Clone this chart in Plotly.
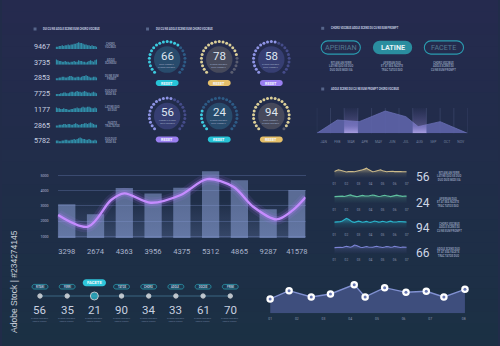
import math
import plotly.graph_objects as go

W, H = 500, 346
FONT = "Roboto"

# ======================= data =======================
# top-left list with mini bar charts
mini_numbers = ["9467", "3735", "2853", "7725", "1177", "2865", "5782"]
mini_captions = [("CHORO", "VOCIBUS"), ("ADOLE", "SCENSDU"), ("DU NE EUM", "PRIMET"),
                 ("DUO DUIS", "MODI EA"), ("LATINE QUO", "EX DUO"), ("FACETE", "TRACTATOS"),
                 ("DUO DUIS", "MODI EA")]
mini_bars_9467 = [3, 3, 4, 4, 5, 4, 5, 5, 6, 5, 6, 6, 7, 7, 8, 9, 8, 8, 7, 6, 6, 5, 5, 4, 5, 4, 4, 3]
mini_bars_3735 = [7, 6, 5, 5, 4, 4, 5, 4, 4, 3, 4, 4, 5, 4, 4, 6, 5, 5, 4, 4, 3, 4, 5, 6, 5, 4, 6, 7]
mini_bars_2853 = [3, 3, 4, 4, 5, 5, 4, 4, 5, 6, 6, 5, 4, 4, 5, 5, 4, 5, 6, 6, 7, 6, 5, 4, 4, 5, 5, 4]
mini_bars_7725 = [3, 3, 3, 4, 4, 5, 5, 4, 4, 5, 6, 6, 5, 6, 7, 6, 6, 5, 6, 7, 6, 5, 5, 4, 5, 6, 5, 4]
mini_bars_1177 = [6, 5, 5, 4, 4, 5, 4, 4, 3, 3, 4, 4, 5, 5, 6, 5, 5, 6, 7, 6, 6, 7, 7, 6, 5, 5, 6, 5]
mini_bars_2865 = [3, 3, 4, 4, 4, 5, 5, 4, 5, 5, 4, 4, 5, 6, 5, 4, 4, 5, 5, 6, 6, 5, 6, 7, 6, 5, 4, 4]
mini_bars_5782 = [4, 4, 3, 3, 4, 4, 5, 5, 4, 4, 5, 5, 6, 5, 6, 7, 8, 7, 6, 6, 5, 5, 6, 5, 4, 4, 5, 4]

# gauges
gauge_values = [66, 78, 58, 56, 24, 94]
gauge_themes = ["cyan", "gold", "violet", "violet", "cyan", "gold"]
gauge_captions = [("DUIS PROMPT", "CHORO VOCIBUS"), ("CHORO VOCIBUS", "DUIS PROMPT"),
                  ("CHORO VOCIBUS", "DUIS PROMPT"), ("PROMPT CHORO", "DUIS VOCIBUS"),
                  ("CHORO VOCIBUS", "DUIS PROMPT"), ("DUIS PROMPT", "CHORO VOCIBUS")]

# toggle buttons
toggle_labels = ["APEIRIAN", "LATINE", "FACETE"]
toggle_active = "LATINE"
toggle_captions = [("RITIANI AN FERRI", "LATINE QUO EX DUO", "DUO DUIS MODI EA"),
                   ("APEIRIAN DUO", "ET AT SEA FACETE", "TRAC TATOS DUO"),
                   ("CHORO VOCIBUS", "ADOLE SCENS DU", "CU NE EUM PROMPT")]

# monthly area chart
area_months = ["JAN", "FEB", "MAR", "APR", "MAY", "JUN", "JUL", "AUG", "SEP", "OCT", "NOV"]
area_x = [-0.5, 1.0, 2.6, 4.5, 6.0, 6.9, 8.5, 10.5]
area_y = [0, 40, 35, 67, 50, 20, 35, 0]
area_marked = ["MAR", "AUG"]
area_marked_labels = ["156K", "354.6"]

# bar + line combo chart
combo_categories = ["3298", "2674", "4363", "3956", "4375", "5312", "4865", "9287", "41578"]
combo_bars = [3100, 2440, 4170, 3800, 4190, 5260, 4670, 2770, 4040]
combo_line_x = [-0.30, 0.74, 1.54, 2.0, 2.92, 3.96, 4.88, 5.79, 6.48, 7.29, 7.86, 8.3]
combo_line_y = [2400, 1630, 3380, 3820, 3200, 3710, 4750, 4250, 2940, 2110, 2720, 3560]
combo_y_ticks = [1000, 2000, 3000, 4000, 5000]

# sparklines
spark_numbers = ["56", "24", "94", "66"]
spark_ticks = ["01", "02", "03", "04", "05", "06", "07"]
spark_tan = [5.4, 6.2, 6.8, 6.4, 5.9, 5.2, 5.0, 5.3, 5.6, 5.4, 5.2, 5.5, 5.8, 6.4, 6.9, 7.4, 8.2, 7.0,
             5.8, 5.2, 5.4, 5.8, 6.5, 6.8, 6.1, 5.5, 5.2, 5.4, 5.8, 5.6, 5.3, 5.5, 5.7, 5.4, 5.2, 5.3, 5.2]
spark_green = [5.6, 5.8, 6.0, 6.3, 6.0, 5.7, 6.2, 6.8, 7.0, 6.4, 5.9, 5.6, 5.8, 6.2, 6.6, 6.2, 5.9, 6.1,
               6.5, 6.9, 6.6, 6.0, 5.7, 5.9, 6.3, 6.7, 6.3, 5.8, 5.6, 6.0, 6.5, 6.8, 6.4, 6.0, 5.8, 6.1, 6.0]
spark_cyan = [5.4, 5.6, 5.3, 5.8, 6.4, 7.6, 8.6, 7.8, 6.4, 5.6, 5.2, 5.6, 6.2, 5.8, 5.3, 5.6, 6.0, 5.5,
              5.2, 5.7, 6.3, 5.9, 5.4, 5.6, 6.1, 5.7, 5.3, 5.8, 6.2, 5.6, 5.3, 5.5, 5.9, 5.6, 5.4, 5.6, 5.5]
spark_violet = [5.2, 5.5, 5.9, 5.6, 5.3, 5.8, 6.3, 6.0, 5.6, 6.2, 7.4, 7.0, 6.1, 5.5, 5.3, 5.7, 6.1, 5.8,
                5.4, 5.6, 6.0, 6.4, 6.0, 5.5, 5.3, 5.7, 6.2, 5.9, 5.5, 5.8, 6.3, 6.0, 5.6, 5.4, 5.7, 5.9, 5.6]
spark_captions = [("RITIANI AN FERRI", "LATINE QUO EX DUO", "DUO DUIS MODI EA"),
                  ("APEIRIAN DUO", "ET AT SEA FACETE", "TRAC TATOS DUO"),
                  ("CHORO VOCIBUS", "ADOLE SCENS DU", "CU NE EUM PROMPT"),
                  ("ADOLE SCENS DUO", "ET AT SEA FACETE", "TRAC TATOS DUO")]

# timeline
timeline_labels = ["RITANI", "FERRI", "FACETE", "TATOS", "CHORO", "ADOLE", "DOCES", "PRIMI"]
timeline_values = [56, 35, 21, 90, 34, 33, 61, 70]
timeline_active = "FACETE"

# bottom-right trend
trend_x = [0, 0.71, 1.54, 2.26, 3.15, 3.56, 4.29, 5.09, 5.85, 6.51, 7.30]
trend_y = [43, 68, 49, 58, 86, 49, 77, 63, 66, 49, 72]
trend_tick_pos = [0, 1, 2, 3, 4, 5, 6, 7.25]
trend_ticks = ["01", "02", "03", "04", "05", "06", "07", "08"]

# ======================= helpers =======================
fig = go.Figure()
axes = {}
shapes = []
annotations = []
_n = [1]

BASE_AX = dict(showgrid=False, zeroline=False, showticklabels=False, showline=False,
               ticks="", fixedrange=True)


def rgba(h, a):
    h = h.lstrip("#")
    return "rgba(%d,%d,%d,%s)" % (int(h[0:2], 16), int(h[2:4], 16), int(h[4:6], 16), a)


def new_axes(x0, x1, top, bottom, xr, yr, xextra=None, yextra=None):
    _n[0] += 1
    n = _n[0]
    xa = dict(BASE_AX, domain=[x0 / W, x1 / W], range=xr, anchor="y%d" % n)
    ya = dict(BASE_AX, domain=[1 - bottom / H, 1 - top / H], range=yr, anchor="x%d" % n)
    xa.update(xextra or {})
    ya.update(yextra or {})
    axes["xaxis%d" % n] = xa
    axes["yaxis%d" % n] = ya
    return "x%d" % n, "y%d" % n


def text(x, y, s, size, color, anchor="center", xref="x", yref="y", family=FONT, **kw):
    annotations.append(dict(x=x, y=y, xref=xref, yref=yref, text=s, showarrow=False,
                            xanchor=anchor, yanchor="middle", borderpad=0,
                            font=dict(size=size, color=color, family=family), **kw))


def pill(cx, cy, w, h, fill, line=None, lw=0):
    r = h / 2.0
    k = 0.5523 * r
    a, b = cx - w / 2 + r, cx + w / 2 - r
    t, u = cy - r, cy + r
    p = ("M%.2f,%.2f L%.2f,%.2f C%.2f,%.2f %.2f,%.2f %.2f,%.2f C%.2f,%.2f %.2f,%.2f %.2f,%.2f "
         "L%.2f,%.2f C%.2f,%.2f %.2f,%.2f %.2f,%.2f C%.2f,%.2f %.2f,%.2f %.2f,%.2f Z") % (
        a, t, b, t, b + k, t, b + r, cy - k, b + r, cy, b + r, cy + k, b + k, u, b, u,
        a, u, a - k, u, a - r, cy + k, a - r, cy, a - r, cy - k, a - k, t, a, t)
    shapes.append(dict(type="path", path=p, xref="x", yref="y", layer="below",
                       fillcolor=fill, line=dict(color=line or "rgba(0,0,0,0)", width=lw)))


def title(x, y, s):
    shapes.append(dict(type="rect", xref="x", yref="y", x0=x - 1.5, x1=x + 1.5, y0=y - 1.5, y1=y + 1.5,
                       fillcolor="#56658a", line=dict(width=0), layer="below"))
    text(x + 7.5, y, "<b>%s</b>" % s, 2.6, "#c5cde0", anchor="left")


# ======================= background =======================
top_c, bot_c = (37, 42, 78), (27, 48, 68)
NB = 30
for i in range(NB):
    f = i / (NB - 1)
    c = tuple(int(round(top_c[j] + (bot_c[j] - top_c[j]) * f)) for j in range(3))
    shapes.append(dict(type="rect", xref="paper", yref="paper", x0=0, x1=1,
                       y0=1 - (i + 1) / NB - 0.002, y1=1 - i / NB, layer="below",
                       fillcolor="rgb(%d,%d,%d)" % c, line=dict(width=0)))

# canvas axes (1 unit = 1 px)
axes["xaxis"] = dict(BASE_AX, domain=[0, 1], range=[0, W])
axes["yaxis"] = dict(BASE_AX, domain=[0, 1], range=[H, 0])

# vertical credit line
text(12, 281, "Adobe Stock | #234274145", 8.5, "#c9ced9", family="Liberation Sans", textangle=-90)

# ======================= top-left mini bars =======================
title(33.3, 29, "DUI CU NE ADOLE SCENS EUM CHORO VOCIBUS")
mini_series = [mini_bars_9467, mini_bars_3735, mini_bars_2853, mini_bars_7725,
               mini_bars_1177, mini_bars_2865, mini_bars_5782]
for r, (num, cap, vals) in enumerate(zip(mini_numbers, mini_captions, mini_series)):
    ry = 46.3 + 15.75 * r
    xa, ya = new_axes(54, 96, ry - 4.8, ry + 2.7, [-0.5, len(vals) - 0.5], [0, 10])
    fig.add_trace(go.Bar(x=list(range(len(vals))), y=vals, width=0.9, xaxis=xa, yaxis=ya,
                         marker=dict(color="rgba(50,150,176,0.92)", line=dict(width=0))))
    text(31.7, ry, num, 7.2, "#c8d0e0", anchor="left")
    text(103.3, ry - 0.6, "<b>%s<br>%s</b>" % cap, 2.6, "#8693b0", anchor="left")

# ======================= gauges =======================
title(146.7, 29, "DUI CU NE ADOLE SCENS EUM CHORO VOCIBUS")
THEMES = {
    "cyan": dict(on="#3ccbe0", off="#2d5b86", disc="#284b6c", button="#27c3d6"),
    "gold": dict(on="#dccf98", off="#5a5d70", disc="#46495b", button="#e5bf6a"),
    "violet": dict(on="#8f95e6", off="#454c8a", disc="#363e72", button="#9a7ff0"),
}
gx = [166.5, 219.0, 271.5]
gy = [59.5, 116.0]
N_DOTS, RING, DISC = 23, 18.0, 13.3
for i, (v, th, cap) in enumerate(zip(gauge_values, gauge_themes, gauge_captions)):
    cx, cy = gx[i % 3], gy[i // 3]
    t = THEMES[th]
    shapes.append(dict(type="circle", xref="x", yref="y", x0=cx - DISC, x1=cx + DISC,
                       y0=cy - DISC, y1=cy + DISC, fillcolor=t["disc"], line=dict(width=0), layer="below"))
    lit = round(v / 100 * N_DOTS)
    ang = [math.radians(-135 + 270 * k / (N_DOTS - 1)) for k in range(N_DOTS)]
    fig.add_trace(go.Scatter(x=[cx + RING * math.sin(a) for a in ang],
                             y=[cy - RING * math.cos(a) for a in ang], mode="markers",
                             marker=dict(size=3, color=[t["on"] if k < lit else t["off"] for k in range(N_DOTS)]),
                             xaxis="x", yaxis="y", hoverinfo="skip"))
    text(cx, cy - 4.0, str(v), 11.5, "#dfe6f0")
    text(cx, cy + 6.3, "<b>%s<br>%s</b>" % cap, 2.2, "#8d9ab8")
    pill(cx, cy + 23.5, 23, 5.8, t["button"])
    text(cx, cy + 23.5, "<b>RESET</b>", 3.8, "#f4f8ff")

# ======================= toggles =======================
title(323.3, 28.3, "CHORO VOCIBUS ADOLE SCENS DU CU NE EUM PROMPT")
tx = [341.5, 393.7, 445.5]
for lab, cap, cx in zip(toggle_labels, toggle_captions, tx):
    if lab == toggle_active:
        pill(cx, 47.5, 39.5, 13.5, "#2a8d9f")
        text(cx, 47.6, "<b>%s</b>" % lab, 7.2, "#e6f3f6")
    else:
        pill(cx, 47.5, 39.5, 13.2, "rgba(0,0,0,0)", "#2a9cb0", 1.1)
        text(cx, 47.6, lab, 7.2, "#557a90")
    text(cx, 66.3, "<b>%s<br>%s<br>%s</b>" % cap, 2.6, "#8a9ab5")

# ======================= monthly area =======================
title(323.3, 89, "ADOLE SCENS DUI CU NE EUM PROMPT CHORO VOCIBUS")
AY = 76
xa, ya = new_axes(317.3, 469.3, 108, 133.3, [-0.5, len(area_months) - 0.5], [0, AY],
                  xextra=dict(showticklabels=True, tickmode="array",
                              tickvals=list(range(len(area_months))), ticktext=area_months,
                              tickfont=dict(size=3.4, color="#72809f", family=FONT),
                              ticklabelstandoff=5))
for i in range(len(area_months) + 1):
    shapes.append(dict(type="line", xref=xa, yref=ya + " domain", x0=i - 0.5, x1=i - 0.5, y0=0, y1=1,
                       line=dict(color="rgba(120,135,185,0.35)", width=0.6), layer="below"))
fig.add_trace(go.Scatter(x=area_x, y=area_y, mode="lines", fill="tozeroy", xaxis=xa, yaxis=ya,
                         line=dict(width=0.8, color="rgba(108,114,186,0.9)"),
                         fillcolor="rgba(94,100,170,0.9)", hoverinfo="skip"))
for m, lab in zip(area_marked, area_marked_labels):
    k = area_months.index(m)
    fig.add_trace(go.Scatter(x=[k - 0.5, k + 0.5, k + 0.5, k - 0.5], y=[0, 0, AY, AY], fill="toself",
                             mode="none", xaxis=xa, yaxis=ya, hoverinfo="skip",
                             fillgradient=dict(type="vertical", start=0, stop=AY,
                                               colorscale=[[0, "rgba(205,188,255,0.68)"],
                                                           [0.3, "rgba(175,155,240,0.3)"],
                                                           [1, "rgba(150,130,230,0.02)"]])))
    annotations.append(dict(x=k, y=AY + 14, xref=xa, yref=ya, text=lab, showarrow=False,
                            font=dict(size=9, color="#d6dcea", family=FONT)))

# ======================= combo bar + line =======================
CY0, CY1 = 880, 5500
xa, ya = new_axes(56, 306, 167.7, 238.1, [-0.32, 8.3], [CY0, CY1],
                  xextra=dict(showticklabels=True, tickmode="array",
                              tickvals=list(range(len(combo_categories))), ticktext=combo_categories,
                              tickfont=dict(size=7.6, color="#a9b4cb", family=FONT),
                              ticklabelstandoff=7),
                  yextra=dict(showticklabels=True, tickmode="array", tickvals=combo_y_ticks,
                              ticktext=[str(v) for v in combo_y_ticks],
                              tickfont=dict(size=3.6, color="#b4bed4", family=FONT),
                              showgrid=True, gridcolor="rgba(110,130,185,0.35)", gridwidth=0.7,
                              ticklabelstandoff=8))
fig.add_trace(go.Scatter(x=[-0.32, 8.3, 8.3, -0.32], y=[CY0, CY0, 3300, 3300], fill="toself", mode="none",
                         xaxis=xa, yaxis=ya, hoverinfo="skip",
                         fillgradient=dict(type="vertical", start=CY0, stop=3300,
                                           colorscale=[[0, "rgba(140,160,225,0.22)"],
                                                       [1, "rgba(140,160,225,0)"]])))
fig.add_trace(go.Bar(x=list(range(len(combo_bars))), y=combo_bars, width=0.6, xaxis=xa, yaxis=ya,
                     marker=dict(color="rgba(140,160,215,0.54)", line=dict(width=0))))
for w, c in [(11, "rgba(175,115,255,0.10)"), (6, "rgba(185,125,255,0.25)"), (2.3, "#c58cff")]:
    fig.add_trace(go.Scatter(x=combo_line_x, y=combo_line_y, mode="lines", xaxis=xa, yaxis=ya,
                             line=dict(shape="spline", smoothing=0.9, width=w, color=c),
                             hoverinfo="skip", cliponaxis=False))

# ======================= sparklines =======================
spark_series = [spark_tan, spark_green, spark_cyan, spark_violet]
spark_colors = ["#cdbb8a", "#5fbf9e", "#2bb5cc", "#7c84d6"]
for r, (vals, col, num, cap) in enumerate(zip(spark_series, spark_colors, spark_numbers, spark_captions)):
    off = 25.3 * r
    xa, ya = new_axes(335, 408, 166 + off, 178 + off, [0, 6], [0, 10],
                      xextra=dict(showticklabels=True, tickmode="array", tickvals=list(range(7)),
                                  ticktext=spark_ticks,
                                  tickfont=dict(size=3.2, color="#8a96b0", family=FONT),
                                  ticklabelstandoff=3))
    xs = [6 * i / (len(vals) - 1) for i in range(len(vals))]
    fig.add_trace(go.Scatter(x=xs, y=vals, mode="lines", fill="tozeroy", xaxis=xa, yaxis=ya,
                             line=dict(color=col, width=1.1), hoverinfo="skip",
                             fillgradient=dict(type="vertical", start=0, stop=8,
                                               colorscale=[[0, rgba(col, 0)], [0.5, rgba(col, 0.14)],
                                                           [1, rgba(col, 0.6)]])))
    text(424.3, 177.3 + off, num, 12, "#cfd7e6")
    text(437.7, 176.7 + off, "<b>%s<br>%s<br>%s</b>" % cap, 2.6, "#8d9ab5", anchor="left")

# ======================= timeline =======================
TL_X0, TL_DX, TL_Y = 38.3, 27.4, 296
n_tl = len(timeline_labels)
tl_x = [TL_X0 + TL_DX * i for i in range(n_tl)]
fig.add_trace(go.Scatter(x=[tl_x[0], tl_x[-1]], y=[TL_Y, TL_Y], mode="lines", xaxis="x", yaxis="y",
                         line=dict(color="#3b6682", width=1), hoverinfo="skip"))
act = [lab == timeline_active for lab in timeline_labels]
fig.add_trace(go.Scatter(x=tl_x, y=[TL_Y] * n_tl, mode="markers", xaxis="x", yaxis="y", hoverinfo="skip",
                         marker=dict(size=[8 if a else 4.4 for a in act],
                                     color=["#2ec5da" if a else "#ffffff" for a in act])))
for x, lab, val, a in zip(tl_x, timeline_labels, timeline_values, act):
    if a:
        pill(x, 282.7, 23.5, 7, "#2ec5da")
        text(x, 282.8, "<b>%s</b>" % lab, 4.2, "#eefafc")
    else:
        pill(x, 286.7, 16, 4.6, "#1d3850", "#2b9db0", 0.8)
        text(x, 286.8, "<b>%s</b>" % lab, 2.6, "#bcd3e0")
    text(x, 309.5, str(val), 11.5, "#c9d1e0")
    text(x, 319.6, "<b>CHORO VOCIBUS<br>ADOLE SCENS</b>", 2.2, "#5d6f8c")

# ======================= bottom-right trend =======================
xa, ya = new_axes(270.3, 466.7, 280, 313.3, [0, 7.30], [0, 100],
                  xextra=dict(showticklabels=True, tickmode="array", tickvals=trend_tick_pos,
                              ticktext=trend_ticks, tickfont=dict(size=3.4, color="#8c98b4", family=FONT),
                              ticklabelstandoff=2))
fig.add_trace(go.Scatter(x=trend_x, y=trend_y, mode="lines", fill="tozeroy", xaxis=xa, yaxis=ya,
                         line=dict(color="#8191d2", width=1.4), fillcolor="#3e4e7d", hoverinfo="skip"))
fig.add_trace(go.Scatter(x=trend_x, y=trend_y, mode="markers", xaxis=xa, yaxis=ya, cliponaxis=False,
                         marker=dict(size=7.5, color="#ffffff", line=dict(width=0)), hoverinfo="skip"))
fig.add_trace(go.Scatter(x=trend_x, y=trend_y, mode="markers", xaxis=xa, yaxis=ya, cliponaxis=False,
                         marker=dict(size=3, color="#6877b3", line=dict(width=0)), hoverinfo="skip"))

fig.update_layout(width=W, height=H, autosize=False, margin=dict(l=0, r=0, t=0, b=0, pad=0),
                  paper_bgcolor="#212c49", plot_bgcolor="rgba(0,0,0,0)", showlegend=False,
                  shapes=shapes, annotations=annotations, **axes)
fig.write_html("out.html")
